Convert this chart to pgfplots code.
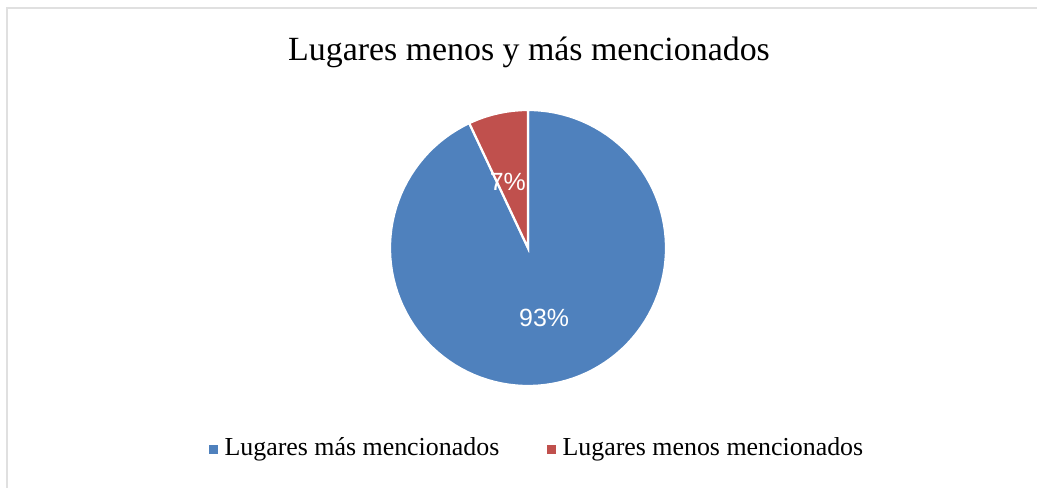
\documentclass[border=0pt]{standalone}
\usepackage{pgfplots}
\pgfplotsset{compat=1.18}
\usepgfplotslibrary{polar}
\usepackage{fontspec}
\setmainfont{Liberation Serif}
\newfontfamily\arialfont{Liberation Sans}
\definecolor{pieblue}{HTML}{4F81BD}
\definecolor{piered}{HTML}{C0504D}
\begin{document}
\begin{tikzpicture}[x=1bp,y=1bp]
\path[use as bounding box] (0,0) rectangle (1037,488);
\draw[black!12,line width=1.5bp] (7,-5) -- (7,480) -- (1045,480);
\node[font=\fontsize{34}{38}\selectfont] at (529,436) {Lugares menos y más mencionados};
\begin{polaraxis}[
  at={(528bp,240bp)}, anchor=center,
  width=276bp, height=276bp, scale only axis,
  hide axis, ymin=0, ymax=1, xmin=0, xmax=360,
  clip=false,
]
% Lugares mas mencionados: 93% -> 334.8 deg (from 115.2 to 450)
\addplot[fill=pieblue, draw=white, line width=2.2bp] coordinates {
(0,0) (115.2,1) (118,1) (121,1) (124,1) (127,1) (130,1) (133,1) (136,1) (139,1) (142,1)
(145,1) (148,1) (151,1) (154,1) (157,1) (160,1) (163,1) (166,1) (169,1) (172,1)
(175,1) (178,1) (181,1) (184,1) (187,1) (190,1) (193,1) (196,1) (199,1) (202,1)
(205,1) (208,1) (211,1) (214,1) (217,1) (220,1) (223,1) (226,1) (229,1) (232,1)
(235,1) (238,1) (241,1) (244,1) (247,1) (250,1) (253,1) (256,1) (259,1) (262,1)
(265,1) (268,1) (271,1) (274,1) (277,1) (280,1) (283,1) (286,1) (289,1) (292,1)
(295,1) (298,1) (301,1) (304,1) (307,1) (310,1) (313,1) (316,1) (319,1) (322,1)
(325,1) (328,1) (331,1) (334,1) (337,1) (340,1) (343,1) (346,1) (349,1) (352,1)
(355,1) (358,1) (361,1) (364,1) (367,1) (370,1) (373,1) (376,1) (379,1) (382,1)
(385,1) (388,1) (391,1) (394,1) (397,1) (400,1) (403,1) (406,1) (409,1) (412,1)
(415,1) (418,1) (421,1) (424,1) (427,1) (430,1) (433,1) (436,1) (439,1) (442,1)
(445,1) (448,1) (450,1) (0,0)} --cycle;
% Lugares menos mencionados: 7% -> 25.2 deg (from 90 to 115.2)
\addplot[fill=piered, draw=white, line width=2.2bp] coordinates {
(0,0) (90,1) (93,1) (96,1) (99,1) (102,1) (105,1) (108,1) (111,1) (114,1) (115.2,1) (0,0)} --cycle;
\node[text=white, font=\arialfont\fontsize{25}{27}\selectfont] at (axis cs:107,0.5) {7\%};
\node[text=white, font=\arialfont\fontsize{25}{27}\selectfont] at (axis cs:283,0.52) {93\%};
\end{polaraxis}
\fill[pieblue] (209,34) rectangle (218,43);
\node[anchor=west, font=\fontsize{26}{28}\selectfont] at (221,39) {Lugares más mencionados};
\fill[piered] (547,34) rectangle (556,43);
\node[anchor=west, font=\fontsize{26}{28}\selectfont] at (559,39) {Lugares menos mencionados};
\end{tikzpicture}
\end{document}
